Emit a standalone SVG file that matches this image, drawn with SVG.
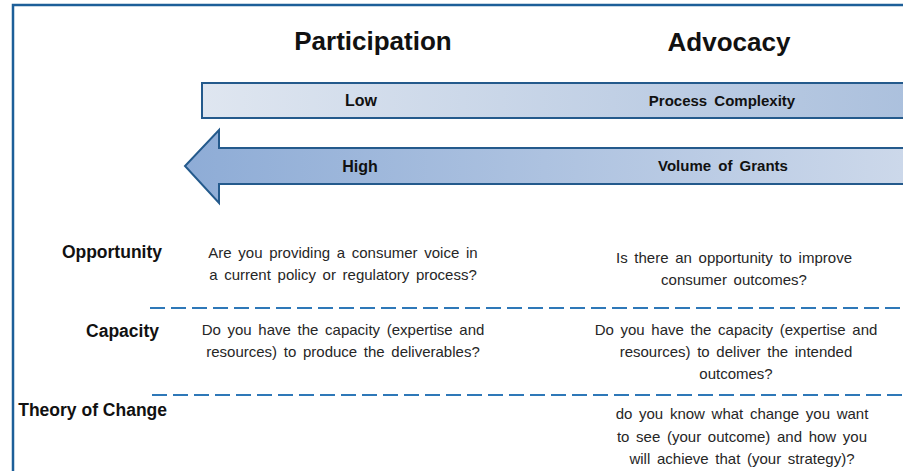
<svg xmlns="http://www.w3.org/2000/svg" width="903" height="471" viewBox="0 0 903 471">
  <defs>
    <linearGradient id="barFill" x1="0" y1="0" x2="1" y2="0">
      <stop offset="0" stop-color="#dfe6f0"/>
      <stop offset="1" stop-color="#abc0dd"/>
    </linearGradient>
    <linearGradient id="arrowFill" gradientUnits="userSpaceOnUse" x1="185" y1="0" x2="903" y2="0">
      <stop offset="0" stop-color="#8eacd6"/>
      <stop offset="1" stop-color="#ccd8ea"/>
    </linearGradient>
    <style>
      .head { font-family: "Liberation Sans", Arial, sans-serif; font-weight: bold; font-size: 26px; fill: #111; text-anchor: middle; }
      .barlabel { font-family: "Liberation Sans", Arial, sans-serif; font-weight: bold; font-size: 16px; fill: #111; text-anchor: middle; }
      .barlabel.small { font-size: 15px; }
      .rowlabel { font-family: "Liberation Sans", Arial, sans-serif; font-weight: bold; font-size: 17.5px; fill: #111; text-anchor: end; }
      .body { font-family: "Liberation Sans", Arial, sans-serif; font-size: 15px; fill: #262626; text-anchor: middle; word-spacing: 2.5px; }
      .divider { stroke: #2e78b8; stroke-width: 2.2; stroke-dasharray: 15 6; fill: none; }
      .shape { stroke: #245a8c; stroke-width: 2; }
    </style>
  </defs>

  <rect width="903" height="471" fill="#ffffff"/>

  <!-- outer frame, continuing off the right and bottom edges -->
  <rect x="13" y="5" width="900" height="480" fill="none" stroke="#1d5f99" stroke-width="2.5"/>

  <!-- column headings -->
  <g id="heading-participation">
    <text class="head" x="373" y="50">Participation</text>
  </g>
  <g id="heading-advocacy">
    <text class="head" x="729" y="51">Advocacy</text>
  </g>

  <!-- process complexity bar -->
  <g id="bar-complexity">
    <rect class="shape" x="202" y="83" width="710" height="35" fill="url(#barFill)"/>
    <text class="barlabel" x="361" y="106">Low</text>
    <text class="barlabel small" x="722" y="106" word-spacing="3">Process Complexity</text>
  </g>

  <!-- volume of grants arrow, pointing left -->
  <g id="arrow-volume">
    <path class="shape" d="M912,148 L219,148 L219,130 L185,166 L219,203 L219,184 L912,184 Z" fill="url(#arrowFill)"/>
    <text class="barlabel" x="360" y="172">High</text>
    <text class="barlabel small" x="723" y="171" word-spacing="3">Volume of Grants</text>
  </g>

  <!-- row labels -->
  <g id="label-opportunity">
    <text class="rowlabel" x="162" y="258">Opportunity</text>
  </g>
  <g id="label-capacity">
    <text class="rowlabel" x="159" y="337">Capacity</text>
  </g>
  <g id="label-theory">
    <text class="rowlabel" x="167" y="416">Theory of Change</text>
  </g>

  <!-- row dividers -->
  <g id="dividers">
    <line class="divider" x1="150" y1="308" x2="903" y2="308"/>
    <line class="divider" x1="152" y1="395" x2="903" y2="395"/>
  </g>

  <!-- question texts -->
  <g id="q-participation-opportunity">
    <text class="body" x="343" y="258">Are you providing  a consumer voice in</text>
    <text class="body" x="343" y="280">a current policy or regulatory process?</text>
  </g>
  <g id="q-advocacy-opportunity">
    <text class="body" x="734" y="263">Is there an opportunity  to improve</text>
    <text class="body" x="734" y="285">consumer  outcomes?</text>
  </g>
  <g id="q-participation-capacity">
    <text class="body" x="343" y="335">Do you have the capacity (expertise  and</text>
    <text class="body" x="343" y="357">resources) to produce the deliverables?</text>
  </g>
  <g id="q-advocacy-capacity">
    <text class="body" x="736" y="335">Do you have the capacity (expertise  and</text>
    <text class="body" x="736" y="357">resources) to deliver  the intended</text>
    <text class="body" x="736" y="379">outcomes?</text>
  </g>
  <g id="q-advocacy-theory">
    <text class="body" x="742" y="419">do you know  what  change you want</text>
    <text class="body" x="742" y="442">to see (your outcome) and how you</text>
    <text class="body" x="742" y="464">will achieve that (your strategy)?</text>
  </g>
</svg>
